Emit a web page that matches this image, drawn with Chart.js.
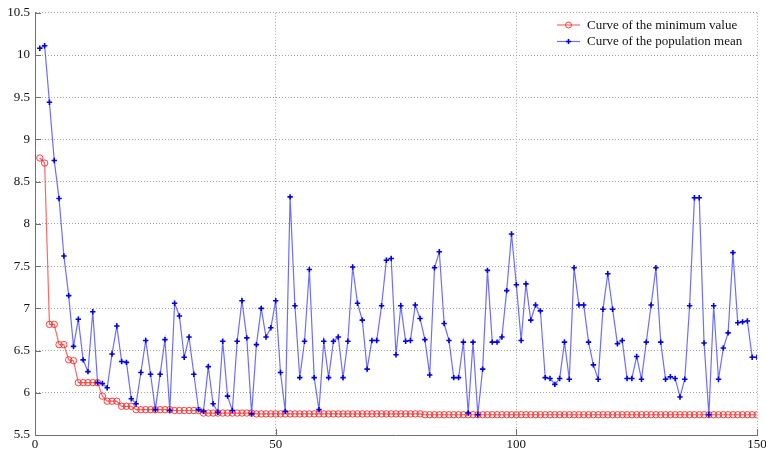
<!DOCTYPE html>
<html>
<head>
<meta charset="utf-8">
<script src="https://cdn.jsdelivr.net/npm/chart.js@4/dist/chart.umd.min.js"></script>
<style>
html,body{margin:0;padding:0;background:#fff;}
#wrap{width:766px;height:451px;}
</style>
</head>
<body>
<div id="wrap"><canvas id="c" width="766" height="451"></canvas></div>
<script>
const generations = [1,2,3,4,5,6,7,8,9,10,11,12,13,14,15,16,17,18,19,20,21,22,23,24,25,26,27,28,29,30,31,32,33,34,35,36,37,38,39,40,41,42,43,44,45,46,47,48,49,50,51,52,53,54,55,56,57,58,59,60,61,62,63,64,65,66,67,68,69,70,71,72,73,74,75,76,77,78,79,80,81,82,83,84,85,86,87,88,89,90,91,92,93,94,95,96,97,98,99,100,101,102,103,104,105,106,107,108,109,110,111,112,113,114,115,116,117,118,119,120,121,122,123,124,125,126,127,128,129,130,131,132,133,134,135,136,137,138,139,140,141,142,143,144,145,146,147,148,149,150];

const minValues = [8.78,8.72,6.81,6.81,6.57,6.57,6.39,6.38,6.12,6.12,
6.12,6.12,6.12,5.96,5.90,5.90,5.90,5.84,5.84,5.84,
5.80,5.80,5.80,5.80,5.80,5.80,5.80,5.80,5.79,5.79,
5.79,5.79,5.79,5.79,5.76,5.76,5.76,5.76,5.76,5.76,
5.76,5.76,5.76,5.76,5.76,5.75,5.75,5.75,5.75,5.75,
5.75,5.75,5.75,5.75,5.75,5.75,5.75,5.75,5.75,5.75,
5.75,5.75,5.75,5.75,5.75,5.75,5.75,5.75,5.75,5.75,
5.75,5.75,5.75,5.75,5.75,5.75,5.75,5.75,5.75,5.75,
5.74,5.74,5.74,5.74,5.74,5.74,5.74,5.74,5.74,5.74,
5.74,5.74,5.74,5.74,5.74,5.74,5.74,5.74,5.74,5.74,
5.74,5.74,5.74,5.74,5.74,5.74,5.74,5.74,5.74,5.74,
5.74,5.74,5.74,5.74,5.74,5.74,5.74,5.74,5.74,5.74,
5.74,5.74,5.74,5.74,5.74,5.74,5.74,5.74,5.74,5.74,
5.74,5.74,5.74,5.74,5.74,5.74,5.74,5.74,5.74,5.74,
5.74,5.74,5.74,5.74,5.74,5.74,5.74,5.74,5.74,5.74];

const meanValues = [10.08,10.11,9.44,8.75,8.30,7.62,7.15,6.55,6.87,6.39,
6.25,6.96,6.12,6.11,6.06,6.46,6.79,6.37,6.36,5.93,
5.87,6.24,6.62,6.22,5.80,6.22,6.63,5.79,7.06,6.91,
6.42,6.66,6.22,5.80,5.78,6.31,5.87,5.77,6.61,5.96,
5.79,6.61,7.09,6.65,5.75,6.57,7.00,6.66,6.77,7.09,
6.24,5.78,8.32,7.03,6.18,6.61,7.46,6.18,5.80,6.61,
6.18,6.61,6.66,6.18,6.61,7.49,7.06,6.86,6.28,6.62,
6.62,7.03,7.57,7.59,6.45,7.03,6.61,6.62,7.04,6.88,
6.63,6.21,7.48,7.67,6.82,6.62,6.18,6.18,6.60,5.76,
6.60,5.74,6.28,7.45,6.60,6.60,6.66,7.21,7.88,7.28,
6.62,7.29,6.86,7.04,6.97,6.18,6.17,6.10,6.17,6.60,
6.16,7.48,7.04,7.04,6.60,6.33,6.16,6.99,7.41,6.99,
6.58,6.62,6.17,6.17,6.43,6.16,6.60,7.04,7.48,6.60,
6.16,6.19,6.17,5.95,6.16,7.03,8.31,8.31,6.59,5.74,
7.03,6.16,6.53,6.71,7.66,6.83,6.84,6.85,6.42,6.42];

const seriesNames = ['Curve of the minimum value', 'Curve of the population mean'];
const yTicks = [5.5,6,6.5,7,7.5,8,8.5,9,9.5,10,10.5];
const xTicks = [0,50,100,150];

const FONT = '"Liberation Serif", "Times New Roman", serif';

const redLine = 'rgba(255,0,0,0.6)';
const redMark = 'rgba(255,30,30,0.85)';
const blueLine = 'rgba(30,30,255,0.65)';
const blueMark = '#0000ee';

const toXY = (ys) => generations.map((g, i) => ({x: g, y: ys[i]}));

const innerTicks = {
  id: 'innerTicks',
  beforeDatasetsDraw(chart) {
    const {ctx, chartArea: a, scales: {x, y}} = chart;
    ctx.save();
    ctx.strokeStyle = '#707070';
    ctx.lineWidth = 1;
    ctx.beginPath();
    yTicks.forEach(v => {
      const p = Math.round(y.getPixelForValue(v)) + 0.5;
      ctx.moveTo(a.left, p); ctx.lineTo(a.left + 6, p);
    });
    xTicks.forEach(v => {
      const p = Math.round(x.getPixelForValue(v)) + 0.5;
      ctx.moveTo(p, a.bottom); ctx.lineTo(p, a.bottom - 6);
    });
    ctx.stroke();
    ctx.restore();
  }
};

const lineLegend = {
  id: 'lineLegend',
  afterDraw(chart) {
    const {ctx} = chart;
    ctx.save();
    const rows = [
      {y: 25, line: redLine, mark: redMark, type: 'circle', text: seriesNames[0]},
      {y: 41.5, line: blueLine, mark: blueMark, type: 'cross', text: seriesNames[1]}
    ];
    rows.forEach(r => {
      ctx.strokeStyle = r.line; ctx.lineWidth = 1.2;
      ctx.beginPath(); ctx.moveTo(557, r.y); ctx.lineTo(580, r.y); ctx.stroke();
      ctx.strokeStyle = r.mark;
      ctx.beginPath();
      if (r.type === 'circle') {
        ctx.lineWidth = 1;
        ctx.arc(568.5, r.y, 3, 0, Math.PI * 2);
      } else {
        ctx.lineWidth = 1.5;
        ctx.moveTo(566, r.y); ctx.lineTo(571, r.y);
        ctx.moveTo(568.5, r.y - 2.5); ctx.lineTo(568.5, r.y + 2.5);
      }
      ctx.stroke();
      ctx.fillStyle = '#111';
      ctx.font = '13px ' + FONT;
      ctx.textAlign = 'left';
      ctx.textBaseline = 'middle';
      ctx.fillText(r.text, 587, r.y + 0.5);
    });
    ctx.restore();
  }
};

new Chart(document.getElementById('c'), {
  type: 'line',
  data: {
    datasets: [
      {
        label: seriesNames[1],
        data: toXY(meanValues),
        borderColor: blueLine,
        borderWidth: 1.2,
        pointStyle: 'cross',
        pointRadius: 2.7,
        pointBorderWidth: 1.6,
        pointBorderColor: blueMark,
        pointBackgroundColor: blueMark,
        tension: 0,
        order: 1
      },
      {
        label: seriesNames[0],
        data: toXY(minValues),
        borderColor: redLine,
        borderWidth: 1.2,
        pointStyle: 'circle',
        pointRadius: 3.2,
        pointBorderWidth: 1,
        pointBorderColor: redMark,
        pointBackgroundColor: 'rgba(255,255,255,0)',
        tension: 0,
        order: 2
      }
    ]
  },
  options: {
    responsive: false,
    animation: false,
    devicePixelRatio: 1,
    layout: {padding: {top: 12, right: 9, left: 0, bottom: 0}},
    plugins: {legend: {display: false}, tooltip: {enabled: false}},
    scales: {
      x: {
        type: 'linear',
        min: 0, max: 150,
        afterBuildTicks: (s) => { s.ticks = xTicks.map(v => ({value: v})); },
        afterFit: (s) => { s.height = 16; s.paddingLeft = 0; s.paddingRight = 0; },
        ticks: {
          color: '#111', padding: 2, maxRotation: 0, autoSkip: false,
          font: {family: FONT, size: 13},
          callback: (v) => String(v)
        },
        grid: {
          drawTicks: false,
          color: (c) => (c.tick && c.tick.value === 0) ? 'rgba(0,0,0,0)' : '#a8a8a8',
          lineWidth: 1
        },
        border: {display: true, color: '#707070', width: 1, dash: [1, 2]}
      },
      y: {
        type: 'linear',
        min: 5.5, max: 10.5,
        afterBuildTicks: (s) => { s.ticks = yTicks.map(v => ({value: v})); },
        afterFit: (s) => { s.width = 35; },
        ticks: {
          color: '#111', padding: 5, autoSkip: false,
          font: {family: FONT, size: 13},
          callback: (v) => String(v)
        },
        grid: {
          drawTicks: false,
          color: (c) => (c.tick && c.tick.value === 5.5) ? 'rgba(0,0,0,0)' : '#a8a8a8',
          lineWidth: 1
        },
        border: {display: true, color: '#707070', width: 1, dash: [1, 2]}
      }
    }
  },
  plugins: [innerTicks, lineLegend]
});
</script>
</body>
</html>
